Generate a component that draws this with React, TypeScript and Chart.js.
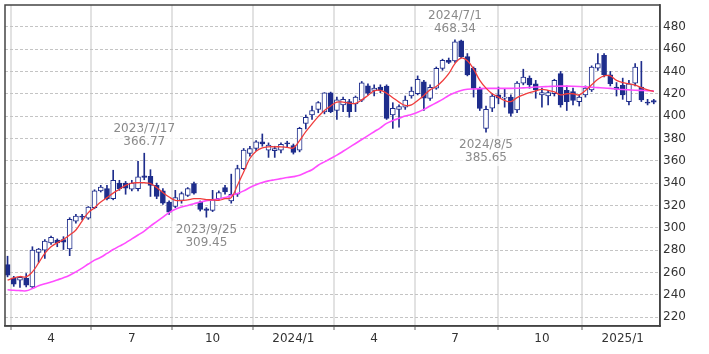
import React, { useEffect, useRef } from 'react';
import { Chart, registerables } from 'chart.js';
Chart.register(...registerables);

// Weekly candles, first week = 2023/2/13 (index 0), one entry per week
const opens = [267,255,253,255,247,278,280,
  286.5,289,289.5,281,306,310.5,308.5,318,333,335,
  326,340,340,334.5,335,346.5,346,338,333,323,
  319,324.5,329,339.5,323,317,315.5,326,336,324,
  330,353,366.5,371,377,369.5,369,369.5,376,373.5,
  369.5,393.5,401,406,403.8,420.8,405,410,413,411,
  414.3,427,423,426,426.8,401,406,408,418,420,
  430.7,415.8,425,442.7,450,449.5,467.5,453.2,442.7,424.8,
  389,407,419,416,417,405.5,429.5,434,429,419,
  418,420,438,423,422,413,419,423.5,443,454.5,
  437,426,427.5,413,429.5,426,412.5,414];
const highs = [274.5,256.5,256.5,259,283,281.5,289.5,
  292.5,290,292,309,312,312,319,334,338,338,
  351.5,342.5,341.5,342.5,359.5,366.77,352,340,335,324,
  333.5,332,336,341,324,318,333.5,333,338,348,
  356,371,373,378,384,376,373,376,377.5,375,
  390,401,409,413,421,421.5,417,417,415,418,
  431,429,428,428,428,412,410,418,426,436,
  432,428,444,451,452,468.34,468,456,444,426,
  409,420,426,424,419,431,442,436,432,425,
  423,433,440,427,425,419,427,445,456,456,
  440,430,434,432,447,449,415,415];
const lows = [256,247.5,246.5,247,245.5,269,272.5,
  285,283,280.5,275,304,307,307.5,317,332,325,
  325,333.5,330,333,333,343,328,326,321,312,
  318,322,328,330,315,309.45,314.5,325,330,322,
  328,352,364,369,373,363,363,367,372,366,
  368,388.5,397,403,402,403,397,404,399,404,
  413,419,418,421,397,389,390,406,416,419,
  405,414,424,441,447,448,452,436,417,405,
  385.65,404,411,408,400,403,428,425,416,408,
  410,418,408,405,410,409,417,422,441,435,
  427,418,415,410,427,413,410,411];
const closes = [257.5,249.5,255.5,248.5,280,281,288,
  291.5,286.5,287,307.5,310.5,309.5,318.5,333,336.5,326,
  342.5,335,335.5,340,345.5,345,338,328,322,314,
  327,330.5,335,331,316.5,315.5,325,331.5,332,330,
  353,369.5,371,377,375,374,371,374.8,375,367.5,
  389,399,405,412,420.8,404,414.5,415,404,417,
  429.9,420.5,425,423,398,407,408.5,414.3,422.4,433,
  416,425.7,442.7,450,448,466.5,453.2,436.8,424.8,406.8,
  406,418,416,417,402.5,429.5,435,428,423.5,421,
  421,432,410,413,414,417,425,444,447,437,
  429,424,419,429,444,414.5,411.5,412.5];
// 13-week moving average (red)
const ma13 = [253,255,256.3,256,260.5,268.5,277,
  283,286.5,289.5,293.5,298,306,313.5,318,323,327,
  331,334.5,338,340,340.3,340.3,339.5,336,331.5,327.5,
  324.6,324.3,325,326,326,325.2,325,324.5,326,327,
  338,350,362,368.5,371.5,372.5,372.5,372.5,372,371.5,
  378,386,393,399.5,405,409,412.5,412.5,411.5,411.5,
  414.5,418.5,422.5,423,420.5,416.5,412.5,409.5,410,414,
  418.5,423.5,426.5,431.5,438,447,452,449.5,442,432,
  425,420,417,414,413,416.5,419,421,422.5,424,
  423,421.7,419,420,420,419,423,428,433,436,
  436,432,430,429,427.7,425.5,423.5,422];
// 26-week moving average (magenta)
const ma26 = [244.5,244,243.7,243.5,245.5,248,249.8,
  251.4,253.3,255.2,257.5,260.5,263.8,267.5,271,273.6,277,
  280.5,283.5,286.5,290,293.5,297,301.5,305.5,309.5,313.5,
  316.5,318.5,320,321.5,323,324.3,325,325.8,327,329,
  330.6,333,336,338.5,340.5,342,343,344,345,345.8,
  347,349.5,352,356,359,362,365,368.5,372,375.5,
  379,382.5,386,389.5,393.5,396,398,400,401.5,403.5,
  406,409,412,415,418.5,421,423,424,424.3,424.6,
  424.8,424.8,424.8,424.8,424.8,425,425.3,425.6,426,426.3,
  426.5,426.7,426.8,426.8,426.7,426.5,426.2,425.8,425.5,425.2,
  424.8,424.3,423.8,423.5,423.2,423,422.8,422.6];

const xTickPos = [7, 20, 33, 46, 59, 72, 86, 99];
const xTickLabels = ['4', '7', '10', '2024/1', '4', '7', '10', '2025/1'];
const yTicks = [220, 240, 260, 280, 300, 320, 340, 360, 380, 400, 420, 440, 460, 480];

const annIdx = [22, 32, 72, 77];
const annDates = ['2023/7/17', '2023/9/25', '2024/7/1', '2024/8/5'];
const annValues = [366.77, 309.45, 468.34, 385.65];
const annAbove = [true, false, true, false];

const NAVY = '#1e2d8c';
const FONT = 'DejaVu Sans';

export default function App() {
  const ref = useRef<HTMLCanvasElement>(null);
  useEffect(() => {
    if (!ref.current) return;
    const up = closes.map((c, k) => c >= opens[k]);
    const framePlugin = {
      id: 'frameAnn',
      afterDraw(chart: any) {
        const { ctx, chartArea: a } = chart;
        ctx.save();
        ctx.strokeStyle = '#444';
        ctx.lineWidth = 1.5;
        ctx.strokeRect(a.left, a.top, a.right - a.left, a.bottom - a.top);
        const xs = chart.scales.x, ys = chart.scales.y;
        ctx.font = `12px "${FONT}"`;
        ctx.textAlign = 'center';
        ctx.textBaseline = 'middle';
        annIdx.forEach((k, n) => {
          const px = xs.getPixelForValue(k);
          const py = ys.getPixelForValue(annValues[n]);
          const l1 = annDates[n];
          const l2 = annValues[n].toFixed(2);
          const c1 = annAbove[n] ? py - 24 : py + 13;
          const c2 = c1 + 13;
          const w = Math.max(ctx.measureText(l1).width, ctx.measureText(l2).width) + 8;
          ctx.fillStyle = 'rgba(255,255,255,0.75)';
          ctx.fillRect(px - w / 2, c1 - 9, w, c2 - c1 + 17);
          ctx.fillStyle = '#8a8a8a';
          ctx.fillText(l1, px, c1);
          ctx.fillText(l2, px, c2);
        });
        ctx.restore();
      },
    };
    const chart = new Chart(ref.current, {
      type: 'bar',
      data: {
        datasets: [
          {
            type: 'line',
            data: ma13.map((v, k) => ({ x: k, y: v })),
            borderColor: '#f03c3c',
            borderWidth: 1.3,
            pointRadius: 0,
            tension: 0.4,
            order: 0,
          } as any,
          {
            type: 'line',
            data: ma26.map((v, k) => ({ x: k, y: v })),
            borderColor: '#ff4dff',
            borderWidth: 1.6,
            pointRadius: 0,
            tension: 0.4,
            order: 0,
          } as any,
          {
            type: 'bar',
            data: opens.map((o, k) => ({ x: k, y: [o, closes[k]] })),
            backgroundColor: up.map((u) => (u ? '#ffffff' : NAVY)),
            borderColor: NAVY,
            borderWidth: 1,
            borderSkipped: false,
            barThickness: 5,
            minBarLength: 1,
            grouped: false,
            order: 1,
          } as any,
          {
            type: 'bar',
            data: lows.map((l, k) => ({ x: k, y: [l, highs[k]] })),
            backgroundColor: NAVY,
            borderWidth: 0,
            barThickness: 1,
            grouped: false,
            order: 2,
          } as any,
        ],
      },
      options: {
        animation: false,
        responsive: false,
        events: [],
        layout: { padding: { left: 5, top: 5, right: 0, bottom: 0 } },
        plugins: { legend: { display: false }, tooltip: { enabled: false } },
        scales: {
          x: {
            type: 'linear',
            min: -0.41,
            max: 105.0,
            offset: false,
            afterBuildTicks: (s: any) => {
              s.ticks = xTickPos.map((v) => ({ value: v }));
            },
            afterFit: (s: any) => {
              s.height = 28;
              s.paddingLeft = 0;
              s.paddingRight = 0;
            },
            ticks: {
              autoSkip: false,
              maxRotation: 0,
              padding: 2,
              color: '#333',
              font: { family: FONT, size: 12 },
              callback: (v: any) => {
                const i = xTickPos.indexOf(Number(v));
                return i >= 0 ? xTickLabels[i] : '';
              },
            },
            grid: { color: '#e2e2e2', lineWidth: 2, tickLength: 4, tickColor: '#666', tickWidth: 1 },
            border: { color: '#444', width: 1.5 },
          },
          y: {
            type: 'linear',
            position: 'right',
            min: 212,
            max: 499.5,
            afterBuildTicks: (s: any) => {
              s.ticks = yTicks.map((v) => ({ value: v }));
            },
            afterFit: (s: any) => {
              s.width = 49;
              s.paddingTop = 0;
              s.paddingBottom = 0;
            },
            ticks: {
              padding: 3,
              color: '#333',
              font: { family: FONT, size: 12 },
            },
            grid: { color: '#c4c4c4', lineWidth: 1, drawTicks: false },
            border: { color: '#444', width: 1.5, dash: [3, 2] },
          },
        },
      } as any,
      plugins: [framePlugin],
    });
    return () => chart.destroy();
  }, []);
  return (
    <div style={{ position: 'fixed', left: 0, top: 0, width: 709, height: 354, background: '#fff' }}>
      <canvas ref={ref} width={709} height={354} />
    </div>
  );
}
